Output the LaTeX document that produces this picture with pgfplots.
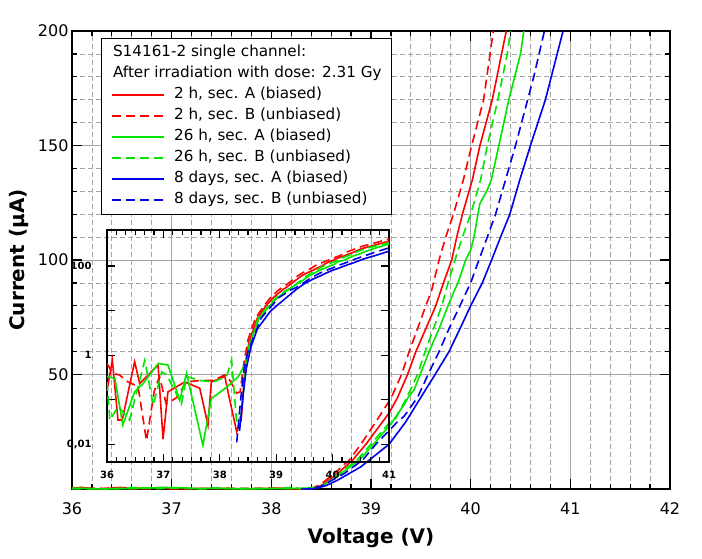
\documentclass[border=0pt]{standalone}
\usepackage{fontspec}
\setmainfont{DejaVu Sans}
\usepackage{pgfplots}
\usepackage{pgfplotstable}
\pgfplotsset{compat=1.18}
\definecolor{cred}{RGB}{255,0,0}
\definecolor{cgreen}{RGB}{0,230,0}
\definecolor{cblue}{RGB}{0,0,235}
\definecolor{gridgray}{RGB}{165,165,165}

\pgfplotstableread{
V I
36.0 0.16
36.095 0.77
36.195 0.035
36.27 0.035
36.49 0.71
36.58 0.23
36.905 0.6
36.994 0.013
37.08 0.15
37.38 0.25
37.645 0.18
37.79 0.027
37.85 0.25
38.09 0.33
38.15 0.14
38.30 0.019
38.38 0.035
38.45 0.6
38.52 2.0
38.667 6.8
38.817 12.7
38.95 19.6
39.117 29.4
39.183 33.3
39.267 40
39.367 50
39.45 60
39.55 70
39.65 80
39.727 90
39.81 100
39.86 110
39.917 120
40.017 135
40.093 150
40.217 170
40.357 200
40.5 240
41.0 360
}\rA

\pgfplotstableread{
V I
36.0 0.65
36.1 0.39
36.22 0.36
36.37 0.25
36.55 0.2
36.70 0.012
36.84 0.16
36.93 0.33
37.05 0.08
37.23 0.11
37.41 0.25
37.65 0.27
37.88 0.27
38.09 0.36
38.18 0.27
38.30 0.14
38.36 0.15
38.43 0.7
38.5 2.2
38.633 6.8
38.783 12.7
38.9 19.6
39.05 29.4
39.2 39.6
39.307 50
39.383 60
39.467 70
39.55 80
39.61 87
39.683 100
39.75 110
39.827 120
39.927 135
40.01 150
40.13 170
40.227 200
40.5 270
41.0 400
}\rB

\pgfplotstableread{
V I
36.0 0.33
36.14 0.30
36.28 0.027
36.49 0.15
36.64 0.23
36.91 0.65
37.08 0.6
37.29 0.097
37.41 0.39
37.70 0.0095
37.85 0.106
38.12 0.19
38.33 0.33
38.467 0.7
38.53 1.8
38.7 6.8
38.883 12.7
39.027 19.6
39.217 29.4
39.24 31
39.333 36.9
39.373 40
39.433 43.4
39.493 50
39.583 60
39.683 70
39.773 80
39.84 87
39.873 90
39.95 100
40.0 104.4
40.033 110
40.073 120
40.093 124.7
40.167 130.6
40.207 135
40.283 150
40.383 170
40.50 190
40.533 200
40.75 250
41.0 310
}\gA

\pgfplotstableread{
V I
36.0 0.25
36.05 0.035
36.2 0.07
36.4 0.035
36.67 0.77
36.82 0.075
36.97 0.42
37.06 0.36
37.32 0.08
37.41 0.33
37.65 0.27
37.88 0.25
38.12 0.33
38.21 0.77
38.30 0.029
38.38 0.045
38.47 0.7
38.53 1.8
38.683 6.8
38.86 12.7
39.0 19.6
39.193 29.4
39.25 31
39.36 40
39.467 50
39.543 60
39.627 70
39.71 80
39.773 90
39.843 100
39.917 110
40.0 120
40.10 135
40.167 150
40.273 170
40.367 190
40.40 200
40.6 250
41.0 330
}\gB

\pgfplotstableread{
V I
38.35 0.02
38.42 0.15
38.47 0.5
38.55 1.5
38.667 3.9
38.9 9.75
39.183 19.6
39.35 29.4
39.5 40
39.643 50
39.783 60
39.893 70
40.0 80
40.117 90
40.21 100
40.30 110
40.393 120
40.493 135
40.60 150
40.75 170
40.927 200
41.0 215
}\bA

\pgfplotstableread{
V I
38.30 0.011
38.37 0.1
38.43 0.5
38.5 1.2
38.733 6.8
38.917 12.7
39.05 19.6
39.267 29.4
39.333 31.8
39.467 40
39.573 50
39.683 60
39.783 70
39.893 80
39.967 87
40.0 90
40.083 100
40.167 110
40.25 120
40.35 135
40.45 150
40.633 180
40.74 200
41.0 255
}\bB

\begin{document}
\begin{tikzpicture}
\pgfplotsset{
  solidline/.style={line width=1.6pt},
  dashline/.style={line width=1.6pt, dash pattern=on 9pt off 5pt},
}
\begin{axis}[
  at={(0pt,0pt)}, anchor=south west,
  scale only axis, width=598pt, height=458pt,
  xmin=36, xmax=42, ymin=0, ymax=200,
  xtick={36,37,38,39,40,41,42}, ytick={50,100,150,200},
  minor x tick num=4, minor y tick num=4,
  tick align=inside, major tick length=10pt, minor tick length=5pt,
  tick style={black, line width=1.2pt},
  axis line style={line width=2.4pt},
  grid=both,
  major grid style={gridgray, line width=0.8pt},
  minor grid style={gridgray, line width=0.8pt, dash pattern=on 5pt off 3pt},
  /pgf/number format/assume math mode=true,
  ticklabel style={font=\fontsize{16}{16}\selectfont},
  xticklabel style={anchor=center, yshift=-20pt},
  label style={font=\bfseries\fontsize{20}{20}\selectfont},
  xlabel={Voltage (V)}, ylabel={Current (µA)},
  xlabel style={at={(axis description cs:0.5,-0.107)}, anchor=center},
  ylabel style={at={(axis description cs:-0.088,0.5)}, anchor=center},
  legend cell align=left,
  legend image code/.code={\draw[#1] (0pt,0pt) -- (52pt,0pt);},
  legend style={at={(0.0485,0.9847)}, anchor=north west, draw=black, line width=1pt,
    fill=white, font=\fontsize{15.2}{17}\selectfont, inner xsep=10pt, inner ysep=7pt,
    row sep=6.5pt, column sep=9pt,
    nodes={inner sep=0pt, text height=11pt, text depth=3.5pt}},
]
\addlegendimage{empty legend}
\addlegendentry{\hspace*{-61pt}S14161-2 single channel:}
\addlegendimage{empty legend}
\addlegendentry{\hspace*{-61pt}After irradiation with dose: 2.31 Gy}
\addplot[cred, solidline] table[x=V,y=I] {\rA};
\addlegendentry{2 h, sec. A (biased)}
\addplot[cred, dashline] table[x=V,y=I] {\rB};
\addlegendentry{2 h, sec. B (unbiased)}
\addplot[cgreen, solidline] table[x=V,y=I] {\gA};
\addlegendentry{26 h, sec. A (biased)}
\addplot[cgreen, dashline] table[x=V,y=I] {\gB};
\addlegendentry{26 h, sec. B (unbiased)}
\addplot[cblue, solidline] table[x=V,y=I] {\bA};
\addlegendentry{8 days, sec. A (biased)}
\addplot[cblue, dashline] table[x=V,y=I] {\bB};
\addlegendentry{8 days, sec. B (unbiased)}
\end{axis}

\begin{axis}[
  at={(35pt,27pt)}, anchor=south west,
  scale only axis, width=282pt, height=232pt,
  ymode=log, xmin=36, xmax=41, ymin=0.004, ymax=640,
  xtick={36,37,38,39,40,41}, xticklabels={36,37,38,39,40,41},
  minor x tick num=5,
  ytick={0.01,0.1,1,10,100}, yticklabels={{0,01},{},{1},{},{100}},
  yminorticks=false,
  tick align=inside, major tick length=8pt, minor tick length=5pt,
  tick style={black, line width=1.2pt},
  axis line style={line width=2pt},
  /pgf/number format/assume math mode=true,
  ticklabel style={font=\bfseries\fontsize{10}{10}\selectfont},
  xticklabel style={anchor=center, yshift=-13pt},
  yticklabel style={anchor=east, xshift=-12pt},
]
\addplot[cred, solidline] table[x=V,y=I] {\rA};
\addplot[cred, dashline] table[x=V,y=I] {\rB};
\addplot[cgreen, solidline] table[x=V,y=I] {\gA};
\addplot[cgreen, dashline] table[x=V,y=I] {\gB};
\addplot[cblue, solidline] table[x=V,y=I] {\bA};
\addplot[cblue, dashline] table[x=V,y=I] {\bB};
\end{axis}
\pgfresetboundingbox
\path[use as bounding box] (-72pt,-69pt) rectangle (630pt,489pt);
\end{tikzpicture}
\end{document}
